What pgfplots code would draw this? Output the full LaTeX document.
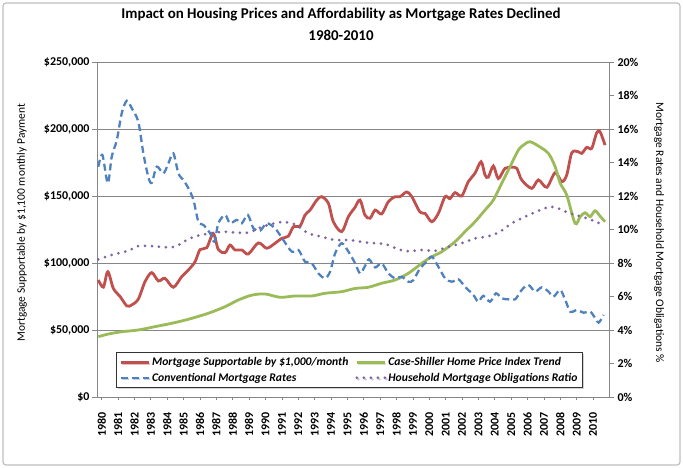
\documentclass[border=0pt]{standalone}
\usepackage{pgfplots}
\pgfplotsset{compat=1.18}
\usepackage{fontspec}
\setmainfont{Carlito}
\usetikzlibrary{shadows}

\definecolor{cRed}{RGB}{192,80,77}
\definecolor{cGreen}{RGB}{155,187,89}
\definecolor{cBlue}{RGB}{79,129,189}
\definecolor{cPurple}{RGB}{128,100,162}
\definecolor{gridgray}{RGB}{134,134,134}
\definecolor{framegray}{RGB}{190,190,190}

\pgfplotsset{
  common/.style={
    at={(0bp,0bp)}, anchor=south west,
    scale only axis, width=512bp, height=335bp,
    xmin=1979.71, xmax=2010.97,
    tick align=outside,
    axis line style={draw=gridgray, line width=0.8bp},
    tick style={draw=gridgray, line width=0.8bp},
    major tick length=5bp, minor tick length=3bp,
    ticklabel style={font=\bfseries\fontsize{12}{13}\selectfont},
    label style={font=\fontsize{11.5}{13}\selectfont},
    legend image code/.code={\draw[#1] (0bp,0bp) -- (28bp,0bp);},
  },
}

\begin{document}
\begin{tikzpicture}
\useasboundingbox (-97bp,-71bp) rectangle (586bp,397bp);
\draw[framegray, line width=1.2bp, rounded corners=3bp] (-94bp,-68bp) rectangle (583bp,394bp);

% left axis: dollars
\begin{axis}[common,
  axis lines*=left,
  ymin=0, ymax=250000, scaled y ticks=false,
  ytick={0,50000,100000,150000,200000,250000},
  yticklabels={{\$0},{\$50,000},{\$100,000},{\$150,000},{\$200,000},{\$250,000}},
  yticklabel style={xshift=1bp},
  ymajorgrids, grid style={draw=gridgray, line width=0.8bp},
  xtick={1980,1981,...,2010},
  minor x tick num=3,
  xtick style={/pgfplots/major tick length=3bp},
  xticklabel style={rotate=90, anchor=east, xshift=-7bp,
    /pgf/number format/1000 sep={}, /pgf/number format/assume math mode=true},
  title={Impact on Housing Prices and Affordability as Mortgage Rates Declined\\1980-2010},
  title style={align=center, font=\bfseries\fontsize{15}{22}\selectfont,
    at={(0.4766,1.095)}, anchor=center},
  ylabel={Mortgage Supportable by \$1,100 monthly Payment},
  ylabel style={at={(-0.1465,0.52)}, anchor=center},
]
\addplot[cRed, line width=2.8bp, smooth] coordinates {
(1979.79,87300) (1980.10,82000) (1980.37,93500) (1980.71,81000) (1981.12,75000)
(1981.53,68000) (1981.83,68700) (1982.23,73000) (1982.64,86000) (1983.05,92800)
(1983.46,86600) (1983.86,88600) (1984.37,81900) (1984.88,89800) (1985.29,94800)
(1985.70,101000) (1986.00,110000) (1986.41,111400) (1986.81,122000) (1987.12,110000)
(1987.53,107700) (1987.83,113400) (1988.14,109700) (1988.55,109700) (1988.95,106700)
(1989.56,115000) (1990.07,111000) (1990.58,114700) (1990.99,118400) (1991.39,120000)
(1991.70,127000) (1992.11,127600) (1992.41,135800) (1992.72,139500) (1993.13,147000)
(1993.43,149500) (1993.84,144500) (1994.14,130800) (1994.65,123400) (1995.06,134600)
(1995.46,141500) (1995.77,147000) (1996.07,135800) (1996.38,133400) (1996.69,139500)
(1997.09,136600) (1997.50,145800) (1997.91,149500) (1998.21,149500) (1998.62,153000)
(1998.93,149500) (1999.43,138000) (1999.74,137000) (2000.15,130800) (2000.55,137000)
(2000.96,149500) (2001.26,148000) (2001.57,152500) (2001.98,150000) (2002.38,160700)
(2002.79,167000) (2003.16,175600) (2003.40,165700) (2003.60,164000) (2003.91,172400)
(2004.21,163000) (2004.62,170600) (2005.03,171400) (2005.34,170600) (2005.64,162000)
(2006.25,155700) (2006.66,162000) (2007.17,156500) (2007.68,167400) (2008.09,160700)
(2008.39,165700) (2008.70,182300) (2009.10,183000) (2009.31,181800) (2009.61,186300)
(2009.91,185500) (2010.22,197200) (2010.42,198000) (2010.73,188000)};
\addplot[cGreen, line width=2.8bp, smooth] coordinates {
(1979.79,45000) (1980.40,47000) (1981.22,48700) (1982.23,50000) (1983.25,52500)
(1984.27,55000) (1985.29,58000) (1986.51,62500) (1987.53,67400) (1988.34,72400)
(1989.16,76000) (1989.97,76900) (1990.89,74400) (1991.80,75400) (1992.82,75400)
(1993.63,77400) (1994.65,78600) (1995.46,81000) (1996.28,81900) (1997.09,84900)
(1997.91,87300) (1998.72,92300) (1999.54,99800) (2000.15,104700) (2000.76,108400)
(2001.57,115900) (2002.18,123400) (2002.79,130800) (2003.40,139500) (2003.91,147000)
(2004.42,159500) (2004.93,171900) (2005.44,184300) (2005.84,188800) (2006.15,190500)
(2006.66,187300) (2007.27,181800) (2007.68,171900) (2007.99,159500) (2008.39,150700)
(2008.90,129600) (2009.21,134600) (2009.51,137500) (2009.82,134600) (2010.12,139000)
(2010.42,135000) (2010.73,130800)};
\end{axis}

% right axis: percent
\begin{axis}[common,
  axis y line*=right, axis x line=none,
  ymin=0, ymax=20,
  ytick={0,2,...,20},
  yticklabels={0\%,2\%,4\%,6\%,8\%,10\%,12\%,14\%,16\%,18\%,20\%},
  ylabel={Mortgage Rates and Household Mortgage Obligations \%},
  ylabel style={rotate=180, at={(1.0977,0.49)}, anchor=center},
  legend columns=2,
  legend cell align=left,
  legend style={at={(0.037,0.027)}, anchor=south west, draw=black!80,
    fill=white, line width=0.8bp, inner ysep=3bp, row sep=1.5bp,
    drop shadow={shadow xshift=1.5bp, shadow yshift=-1.5bp, opacity=0.35},
    font=\bfseries\itshape\fontsize{11.7}{13}\selectfont,
    /tikz/every even column/.append style={column sep=5bp}},
]
\addlegendimage{cRed, line width=2.8bp}
\addlegendentry{Mortgage Supportable by \$1,000/month}
\addlegendimage{cGreen, line width=2.8bp}
\addlegendentry{Case-Shiller Home Price Index Trend}
\addplot[cBlue, line width=2.3bp, dash pattern=on 7bp off 4bp, smooth] coordinates {
(1979.79,13.75) (1980.04,14.45) (1980.37,12.76) (1980.61,14.35) (1980.92,15.34)
(1981.22,16.94) (1981.53,17.69) (1981.83,17.24) (1982.23,16.44) (1982.54,14.55)
(1982.84,13.15) (1983.05,12.79) (1983.36,13.75) (1983.76,13.35) (1984.07,13.95)
(1984.37,14.55) (1984.68,13.35) (1984.98,12.96) (1985.29,12.46) (1985.60,11.76)
(1985.90,10.47) (1986.21,10.27) (1986.62,9.77) (1986.88,9.27) (1987.12,10.37)
(1987.53,10.87) (1987.83,10.37) (1988.24,10.57) (1988.55,10.37) (1988.92,10.87)
(1989.26,10.07) (1989.67,9.93) (1990.07,10.37) (1990.58,10.07) (1991.09,9.37)
(1991.60,8.68) (1992.01,8.78) (1992.41,8.08) (1992.82,7.98) (1993.23,7.38)
(1993.63,7.09) (1993.94,7.48) (1994.25,8.58) (1994.65,9.18) (1995.06,8.68)
(1995.46,8.00) (1995.77,7.38) (1996.07,7.82) (1996.32,8.22) (1996.69,7.74)
(1997.09,7.98) (1997.50,7.38) (1997.91,7.09) (1998.32,7.18) (1998.72,6.88)
(1999.03,6.98) (1999.43,7.68) (1999.84,8.08) (2000.15,8.38) (2000.55,7.78)
(2000.96,7.09) (2001.37,6.88) (2001.77,7.03) (2002.18,6.58) (2002.69,6.09)
(2002.99,5.69) (2003.30,6.04) (2003.71,5.69) (2004.07,6.19) (2004.42,5.89)
(2004.83,5.83) (2005.24,5.83) (2005.64,6.39) (2006.05,6.69) (2006.46,6.29)
(2006.87,6.55) (2007.28,6.29) (2007.58,5.99) (2007.99,6.39) (2008.30,5.79)
(2008.61,5.09) (2009.01,5.19) (2009.42,5.03) (2009.83,5.09) (2010.13,4.70)
(2010.34,4.44) (2010.64,4.90)};
\addlegendentry{Conventional Mortgage Rates}
\addplot[cPurple, line width=3bp, line cap=round, dash pattern=on 0bp off 7bp, smooth] coordinates {
(1979.79,8.22) (1980.61,8.48) (1981.62,8.73) (1982.23,9.01) (1983.05,9.01)
(1983.86,8.94) (1984.47,8.97) (1985.19,9.37) (1985.80,9.61) (1986.61,9.77)
(1987.43,9.87) (1988.24,9.81) (1989.05,9.83) (1989.56,10.07) (1990.37,10.33)
(1991.09,10.45) (1991.80,10.30) (1992.62,9.77) (1993.43,9.57) (1994.25,9.37)
(1995.06,9.37) (1996.28,9.21) (1997.30,9.13) (1998.11,8.82) (1998.72,8.70)
(1999.54,8.78) (2000.35,8.73) (2001.16,8.97) (2001.98,9.18) (2002.79,9.47)
(2003.40,9.55) (2004.21,9.81) (2005.03,10.37) (2005.84,10.76) (2006.66,11.12)
(2007.37,11.36) (2007.88,11.26) (2008.49,11.00) (2009.31,10.76) (2009.91,10.57)
(2010.62,10.27)};
\addlegendentry{Household Mortgage Obligations Ratio}
\end{axis}
\end{tikzpicture}
\end{document}
